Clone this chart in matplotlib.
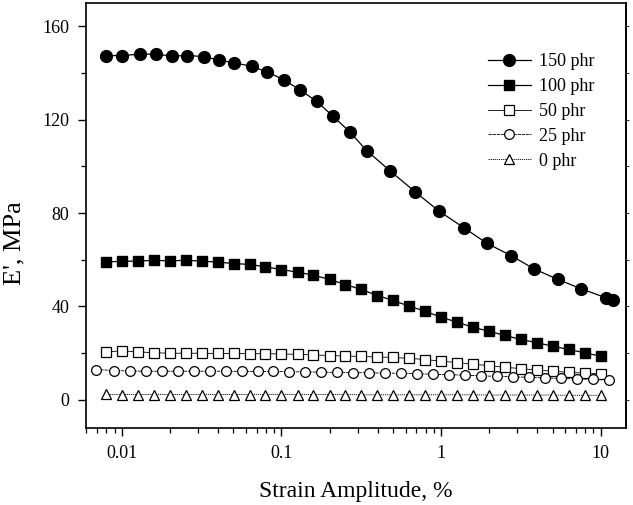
import matplotlib
matplotlib.use('Agg')
import matplotlib.pyplot as plt
from matplotlib.ticker import LogLocator, MultipleLocator, NullFormatter, FixedLocator, FixedFormatter

plt.rcParams['font.family'] = ['Liberation Serif', 'DejaVu Serif']

# strain amplitude, % (shared grid for 100, 50 and 0 phr)
strain = [0.00794, 0.01, 0.0126, 0.0158, 0.02, 0.0251, 0.0316, 0.0398, 0.0501, 0.0631,
          0.0794, 0.1, 0.126, 0.158, 0.2, 0.251, 0.316, 0.398, 0.501, 0.631,
          0.794, 1.0, 1.26, 1.58, 2.0, 2.51, 3.16, 3.98, 5.01, 6.31, 7.94, 10.0]

# 150 phr was measured on its own grid
strain_150 = [0.008, 0.01, 0.013, 0.0164, 0.0206, 0.0256, 0.0325, 0.0404, 0.0507, 0.0649,
              0.0813, 0.103, 0.130, 0.166, 0.211, 0.269, 0.342, 0.476, 0.687, 0.97,
              1.39, 1.94, 2.74, 3.82, 5.38, 7.53, 10.8, 11.9]
e_150 = [147.4, 147.4, 148.0, 148.0, 147.2, 147.4, 147.0, 145.5, 144.3, 142.8,
         140.4, 137.1, 132.8, 127.8, 121.4, 114.6, 106.7, 98.2, 89.1, 80.8,
         73.7, 67.0, 61.8, 56.1, 51.6, 47.6, 43.7, 42.7]

e_100 = [59.0, 59.4, 59.4, 59.8, 59.5, 59.8, 59.4, 59.0, 58.4, 58.0,
         57.0, 55.8, 54.7, 53.4, 51.6, 49.4, 47.3, 44.7, 42.6, 40.1,
         38.0, 35.4, 33.3, 31.1, 29.4, 27.6, 25.9, 24.5, 23.0, 21.6, 20.2, 18.7]

e_50 = [20.6, 21.0, 20.6, 20.2, 20.0, 20.0, 20.0, 19.9, 19.9, 19.8,
        19.8, 19.7, 19.5, 19.3, 19.0, 18.8, 18.6, 18.4, 18.2, 17.8,
        17.3, 16.6, 16.0, 15.3, 14.7, 14.0, 13.4, 12.8, 12.3, 11.8, 11.5, 11.2]

# 25 phr grid is shifted half a step
strain_25 = [0.0069, 0.0089, 0.0112, 0.0141, 0.0178, 0.0224, 0.0282, 0.0355, 0.0447, 0.0562,
             0.0708, 0.0891, 0.112, 0.141, 0.178, 0.224, 0.282, 0.355, 0.447, 0.562,
             0.708, 0.891, 1.12, 1.41, 1.78, 2.24, 2.82, 3.55, 4.47, 5.62, 7.08, 8.91, 11.2]
e_25 = [13.0, 12.6, 12.4, 12.3, 12.3, 12.3, 12.3, 12.3, 12.3, 12.2,
        12.2, 12.2, 12.1, 12.0, 11.9, 11.8, 11.7, 11.6, 11.5, 11.4,
        11.2, 11.0, 10.8, 10.6, 10.3, 10.1, 9.9, 9.7, 9.4, 9.2, 9.0, 8.8, 8.6]

e_0 = [2.4, 2.3, 2.3, 2.3, 2.3, 2.3, 2.3, 2.3, 2.3, 2.3,
       2.3, 2.3, 2.3, 2.3, 2.3, 2.3, 2.2, 2.2, 2.2, 2.2,
       2.2, 2.2, 2.2, 2.2, 2.1, 2.1, 2.1, 2.1, 2.1, 2.0, 2.0, 2.0]

y_ticks = [0, 40, 80, 120, 160]
x_ticks = [0.01, 0.1, 1, 10]
x_labels = ['0.01', '0.1', '1', '10']

fig = plt.figure(figsize=(6.33, 5.05), dpi=100)
ax = fig.add_axes([0.136, 0.1525, 0.853, 0.842])

ax.plot(strain_150, e_150, color='black', lw=0.9, ls='-', marker='o', ms=8.5,
        mfc='black', mec='black', label='150 phr')
ax.plot(strain, e_100, color='black', lw=0.9, ls='-', marker='s', ms=6.5,
        mfc='black', mec='black', label='100 phr')
ax.plot(strain, e_50, color='black', lw=0.6, ls='-', marker='s', ms=6.5,
        mfc='white', mec='black', mew=0.9, label='50 phr')
ax.plot(strain_25, e_25, color='black', lw=0.6, ls=(0, (4, 1)), marker='o', ms=7,
        mfc='white', mec='black', mew=0.9, label='25 phr')
ax.plot(strain, e_0, color='black', lw=0.6, ls=(0, (1.5, 1)), marker='^', ms=7.5,
        mfc='white', mec='black', mew=0.9, label='0 phr')

ax.set_xscale('log')
ax.set_xlim(0.00597, 14.4)
ax.set_ylim(-12, 170)

ax.xaxis.set_major_locator(FixedLocator(x_ticks))
ax.xaxis.set_major_formatter(FixedFormatter(x_labels))
ax.xaxis.set_minor_locator(LogLocator(base=10, subs=range(2, 10)))
ax.xaxis.set_minor_formatter(NullFormatter())
ax.yaxis.set_major_locator(FixedLocator(y_ticks))
ax.yaxis.set_minor_locator(MultipleLocator(20))

for s in ax.spines.values():
    s.set_linewidth(1.2)
ax.tick_params(which='major', direction='out', length=6, width=1.0, labelsize=13, pad=6)
ax.tick_params(which='minor', direction='out', length=3.5, width=0.9)

# faint short ticks on the right spine
ax2 = ax.secondary_yaxis('right')
ax2.yaxis.set_major_locator(FixedLocator(y_ticks))
ax2.yaxis.set_minor_locator(MultipleLocator(20))
ax2.tick_params(which='both', direction='out', length=2.5, width=0.6, labelright=False)
ax2.spines['right'].set_linewidth(1.2)

ax.set_xlabel('Strain Amplitude, %', fontsize=17, labelpad=14)
ax.set_ylabel("E', MPa", fontsize=19)
ax.yaxis.set_label_coords(-0.113, 0.434)

ax.legend(loc='upper left', bbox_to_anchor=(0.744, 0.882), frameon=False, fontsize=13,
          handlelength=2.4, handletextpad=0.45, labelspacing=0.44, borderpad=0,
          borderaxespad=0)

fig.savefig('out.png', dpi=100)
